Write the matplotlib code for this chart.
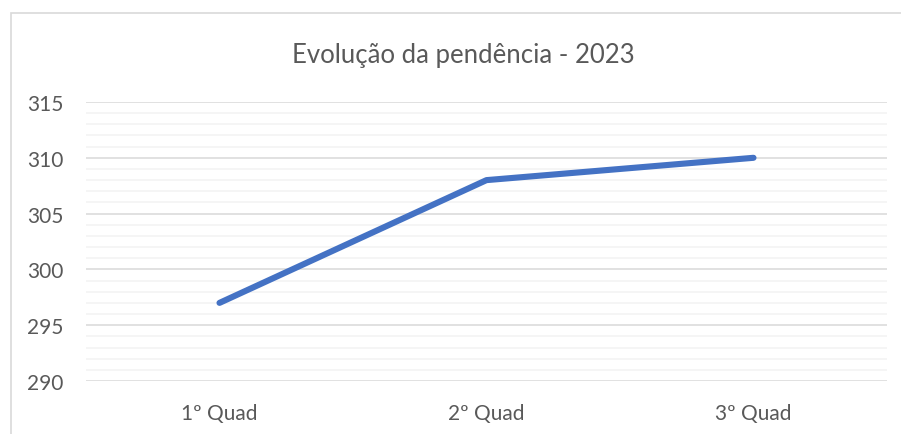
import matplotlib.pyplot as plt
from matplotlib.patches import Rectangle
from matplotlib.ticker import MultipleLocator

# dados do gráfico
quadrimestres = ['1º Quad', '2º Quad', '3º Quad']
pendencia = [297, 308, 310]

plt.rcParams['font.family'] = ['Lato', 'DejaVu Sans']

fig = plt.figure(figsize=(9.01, 4.35), dpi=100)
W, H = 901, 435

# borda da área do gráfico (continua além da imagem à direita e em baixo)
fig.patches.append(Rectangle((10.5 / W, -0.1), 1.2, 1 - 13.5 / H + 0.1,
                             transform=fig.transFigure, fill=False,
                             edgecolor='#D9D9D9', linewidth=1.2))

ax = fig.add_axes([86 / W, 1 - 382 / H, (887 - 86) / W, (382 - 103) / H])
x = range(len(quadrimestres))
ax.plot(x, pendencia, color='#4472C4', linewidth=4.4,
        solid_capstyle='round', solid_joinstyle='round', zorder=3)

ax.set_xlim(-0.5, 2.5)
ax.set_ylim(290, 315)
ax.yaxis.set_major_locator(MultipleLocator(5))
ax.yaxis.set_minor_locator(MultipleLocator(1))
ax.grid(which='major', axis='y', color='#D9D9D9', linewidth=1.1)
ax.grid(which='minor', axis='y', color='#F2F2F2', linewidth=1.1)
ax.set_axisbelow(True)
ax.set_xticks(list(x))
ax.set_xticklabels(quadrimestres)
for s in ax.spines.values():
    s.set_visible(False)
ax.tick_params(which='both', length=0, labelsize=15, colors='#595959')
ax.tick_params(axis='y', pad=16.5)
ax.tick_params(axis='x', pad=15.5)

fig.text(463 / W, 1 - 56 / H, 'Evolução da pendência - 2023', ha='center',
         va='center', fontsize=18.5, color='#595959')

fig.savefig('out.png', dpi=100)
